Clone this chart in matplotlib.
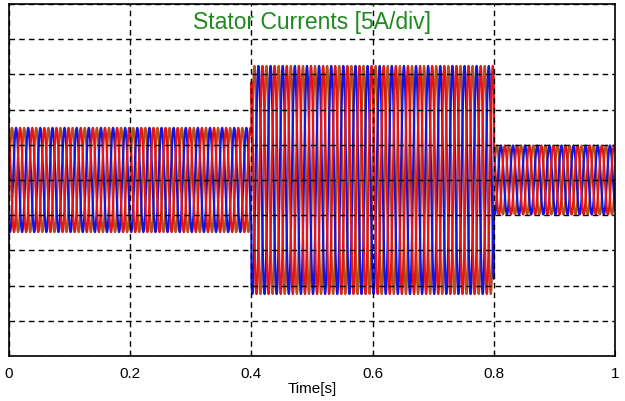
import numpy as np
import matplotlib
matplotlib.use("Agg")
from matplotlib import pyplot as plt

# operating segments (time in s, peak current in A)
seg_start = [0.0, 0.4, 0.8]
seg_end = [0.4, 0.8, 1.0]
seg_peak = [7.4, 16.2, 4.9]
supply_freq = 50.0  # Hz
phase_names = ["ia", "ib", "ic"]
phase_shift_deg = [0, -120, 120]
phase_colors = ["#b4501e", "#1414dc", "#e61414"]

xticks = [0, 0.2, 0.4, 0.6, 0.8, 1]
xtick_labels = ["0", "0.2", "0.4", "0.6", "0.8", "1"]

plt.rcParams["font.family"] = ["Liberation Sans", "DejaVu Sans"]

fig = plt.figure(figsize=(6.25, 4.02), dpi=100)
ax = fig.add_axes([0.0144, 0.112, 0.9696, 0.8756])

t = np.linspace(0, 1, 24001)
amp = np.zeros_like(t)
for s, e, a in zip(seg_start, seg_end, seg_peak):
    amp[(t >= s) & (t <= e)] = a

for name, shift, col in zip(phase_names, phase_shift_deg, phase_colors):
    i = amp * np.sin(2 * np.pi * supply_freq * t + np.deg2rad(shift))
    ax.plot(t, i, color=col, lw=1.6, label=name, zorder=1)

ax.set_xlim(0, 1)
ax.set_ylim(-25, 25)
ax.set_xticks(xticks)
ax.set_xticklabels(xtick_labels)
ax.set_yticks(np.arange(-25, 26, 5))
ax.set_yticklabels([])
ax.tick_params(axis="x", labelsize=11, direction="in", length=4, pad=7)
ax.tick_params(axis="y", direction="in", length=0)
ax.set_axisbelow(False)
ax.grid(True, color="black", linestyle=(0, (4, 3)), linewidth=1.0, zorder=3)
for sp in ax.spines.values():
    sp.set_linewidth(1.2)

ax.text(0.5, 0.95, "Stator Currents [5A/div]", transform=ax.transAxes,
        ha="center", va="center", color="#1f8a1f", fontsize=16.5)
ax.set_xlabel("Time[s]", fontsize=11, labelpad=1)

fig.savefig("out.png", dpi=100)
